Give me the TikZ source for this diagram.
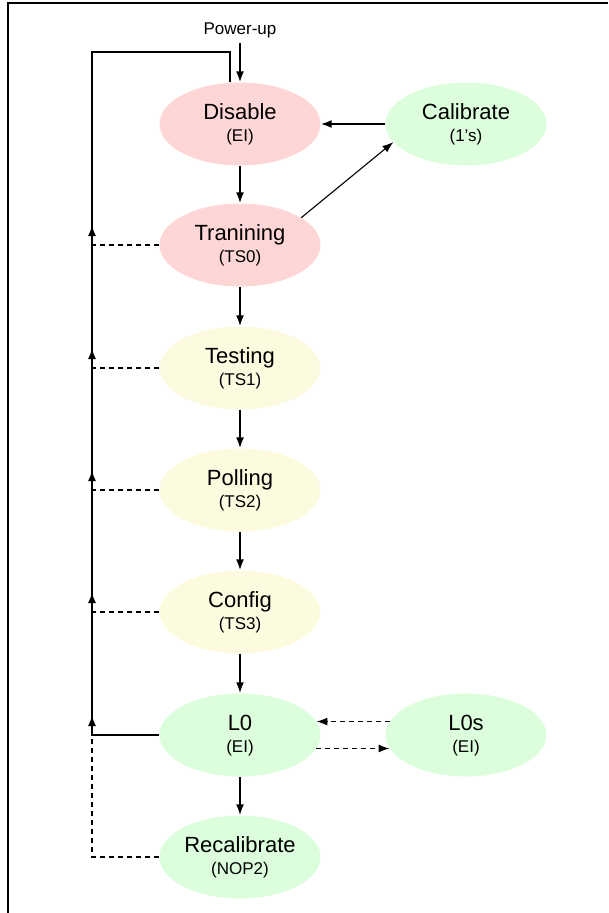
\documentclass[tikz,border=0pt]{standalone}
\usepackage{fontspec}
\setmainfont{Liberation Sans}
\usetikzlibrary{shapes.geometric,arrows.meta}
\definecolor{pinkfill}{RGB}{255,214,214}
\definecolor{greenfill}{RGB}{221,254,221}
\definecolor{yellowfill}{RGB}{252,251,224}
\tikzset{
  statebox/.style={ellipse, minimum width=161pt, minimum height=83pt, inner sep=0pt, draw=none},
  maintxt/.style={anchor=base, font=\fontsize{22}{22}\selectfont, inner sep=0pt},
  subtxt/.style={anchor=base, font=\fontsize{17}{17}\selectfont, inner sep=0pt},
  tipA/.style={-{Latex[length=11pt,width=8pt]}},
  arr/.style={line width=1.8pt, tipA},
  thinarr/.style={line width=1.1pt, tipA},
  solidline/.style={line width=1.8pt},
  dsh/.style={line width=1.6pt, dash pattern=on 5pt off 4pt},
  dsharr/.style={line width=1.6pt, dash pattern=on 5pt off 4pt, tipA},
}
\newcommand\mkstate[6]{%
  \node[statebox,fill=#4] (#1) at (#2,#3) {};
  \node[maintxt] (#1m) at ([yshift=5pt]#1.center) {#5};
  \node[subtxt] (#1s) at ([yshift=-17pt]#1.center) {#6};
}
\begin{document}
\begin{tikzpicture}[x=1pt,y=-1pt]
\useasboundingbox (0,0) rectangle (608,913);
% frame
\draw[line width=2pt] (8,913) -- (8,3) -- (608,3);

% states
\mkstate{dis}{240}{124}{pinkfill}{Disable}{(EI)}
\mkstate{ca}{466}{124}{greenfill}{Calibrate}{(1’s)}
\mkstate{tr}{240}{245}{pinkfill}{Tranining}{(TS0)}
\mkstate{te}{240}{368}{yellowfill}{Testing}{(TS1)}
\mkstate{po}{240}{490}{yellowfill}{Polling}{(TS2)}
\mkstate{co}{240}{612}{yellowfill}{Config}{(TS3)}
\mkstate{l0}{240}{735}{greenfill}{L0}{(EI)}
\mkstate{ls}{466}{735}{greenfill}{L0s}{(EI)}
\mkstate{re}{240}{857}{greenfill}{Recalibrate}{(NOP2)}

% power-up
\node[subtxt] (pu) at (240,34) {Power-up};
\draw[arr] ([yshift=-5pt]pu.south) -- (dis.north);

% junctions on the return line
\coordinate (jT) at (92,245);
\coordinate (jE) at (92,368);
\coordinate (jP) at (92,490);
\coordinate (jC) at (92,612);
\coordinate (jL) at (92,735);
\coordinate (jR) at (92,857);
\coordinate (ctl) at (92,52);
\coordinate (ctr) at (230,52);

% main return line
\draw[solidline] (l0.west) -- (jL) -- (ctl) -- (ctr) -- (ctr |- dis.north);
\foreach \j in {jT,jE,jP,jC,jL}{
  \draw[arr] (\j) -- ++(0,-20);
}
% dashed exits
\draw[dsh] (tr.west) -- (jT);
\draw[dsh] (te.west) -- (jE);
\draw[dsh] (po.west) -- (jP);
\draw[dsh] (co.west) -- (jC);
\draw[dsh] (re.west) -- (jR) -- (jL);

% forward transitions
\draw[arr] (dis.south) -- (tr.north);
\draw[arr] (tr.south) -- (te.north);
\draw[arr] (te.south) -- (po.north);
\draw[arr] (po.south) -- (co.north);
\draw[arr] (co.south) -- (l0.north);
\draw[arr] (l0.south) -- (re.north);

% calibrate
\draw[thinarr] (tr.24) -- (ca.194);
\draw[arr] (ca.west) -- (dis.east);

% L0 <-> L0s
\draw[dsharr] (ls.170) -- (l0.10);
\draw[dsharr] (l0.-10) -- (ls.190);
\end{tikzpicture}
\end{document}
